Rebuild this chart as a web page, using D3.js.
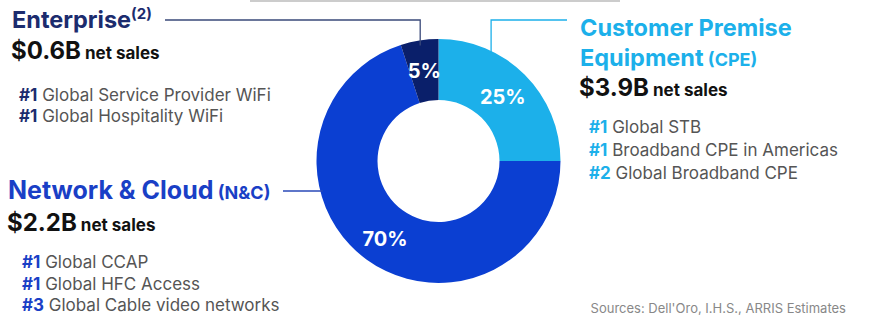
<!DOCTYPE html>
<meta charset="utf-8">
<html>
<head>
<title>Segment net sales</title>
<script src="https://d3js.org/d3.v7.min.js"></script>
<style>
  body { margin: 0; background: #fff; font-family: Inter, "Open Sans", sans-serif; }
  svg { display: block; }
  .rank { font-size: 17px; fill: #555; }
  .rank tspan.num { font-weight: 700; }
  .pct { font-size: 20px; font-weight: 700; fill: #fff; }
</style>
</head>
<body>
<div id="chart"></div>
<script>
// data
var segments = ["Customer Premise Equipment (CPE)", "Network & Cloud (N&C)", "Enterprise"];
var shares = [25, 70, 5];
var netSales = ["$3.9B", "$2.2B", "$0.6B"];
var cpeRanks = [["#1", "Global STB"], ["#1", "Broadband CPE in Americas"], ["#2", "Global Broadband CPE"]];
var ncRanks = [["#1", "Global CCAP"], ["#1", "Global HFC Access"], ["#3", "Global Cable video networks"]];
var entRanks = [["#1", "Global Service Provider WiFi"], ["#1", "Global Hospitality WiFi"]];
var colors = ["#1cb0ea", "#0b3fd2", "#0a1f6a"];
var labelColors = ["#1cb0ea", "#1a3fc6", "#1c2c6e"];

var width = 872, height = 320;
var cx = 438.5, cy = 161, outerR = 122, innerR = 61;

var svg = d3.select("#chart").append("svg")
  .attr("width", width).attr("height", height);

// cut-off rule at the top of the slide
svg.append("line").attr("x1", 250).attr("x2", 620).attr("y1", 1).attr("y2", 1)
  .attr("stroke", "#bbb").attr("stroke-width", 1.5);

var pie = d3.pie().sort(null).value(function(d) { return d; });
var arcs = pie(shares);
var arc = d3.arc().innerRadius(innerR).outerRadius(outerR);
var labelArc = d3.arc().innerRadius(outerR * 0.745).outerRadius(outerR * 0.745);

var g = svg.append("g").attr("transform", "translate(" + cx + "," + cy + ")");

function polar(deg, r) {
  var a = deg * Math.PI / 180;
  return [cx + r * Math.sin(a), cy - r * Math.cos(a)];
}

// connector lines (drawn under the donut)
var p;
p = polar(351, 117);
svg.append("path").attr("d", "M165,20H" + p[0] + "V" + p[1])
  .attr("fill", "none").attr("stroke", "#3a4a7a").attr("stroke-width", 1.3);
p = polar(26, 120);
svg.append("path").attr("d", "M567,20H" + p[0] + "V" + p[1])
  .attr("fill", "none").attr("stroke", colors[0]).attr("stroke-width", 1.3);
p = polar(256, 120);
svg.append("path").attr("d", "M283,191H" + p[0] + "V" + p[1])
  .attr("fill", "none").attr("stroke", "#2a4ab8").attr("stroke-width", 1.3);

g.selectAll("path.slice")
  .data(arcs)
  .enter()
  .append("path")
  .attr("class", "slice")
  .attr("d", arc)
  .attr("fill", function(d, i) { return colors[i]; });

g.selectAll("text.pct")
  .data(arcs)
  .enter()
  .append("text")
  .attr("class", "pct")
  .attr("text-anchor", "middle")
  .attr("dominant-baseline", "central")
  .attr("transform", function(d, i) {
    var c = labelArc.centroid(d);
    if (i == 1) c[1] += 4;
    return "translate(" + c[0] + "," + c[1] + ")";
  })
  .text(function(d) { return d.data + "%"; });

// text blocks
function title(x, y, main, small, color, size, sup) {
  var t = svg.append("text").attr("x", x).attr("y", y)
    .attr("font-weight", 700).attr("fill", color).style("font-size", size + "px");
  t.append("tspan").text(main);
  if (small) t.append("tspan").style("font-size", "18px").text(" " + small);
  if (sup) t.append("tspan").attr("dy", -9).style("font-size", "15px").text(sup);
}
function sales(x, y, val) {
  var t = svg.append("text").attr("x", x).attr("y", y).attr("font-weight", 700).attr("fill", "#111");
  t.append("tspan").style("font-size", "24px").text(val);
  t.append("tspan").style("font-size", "17px").text(" net sales");
}
function ranks(x, y, list, color, step) {
  list.forEach(function(r, i) {
    var t = svg.append("text").attr("class", "rank").attr("x", x).attr("y", y + i * step);
    t.append("tspan").attr("class", "num").attr("fill", color).text(r[0]);
    t.append("tspan").text(" " + r[1]);
  });
}

// Enterprise
title(12, 28, segments[2], null, labelColors[2], 23.5, "(2)");
sales(11, 59, netSales[2]);
ranks(19, 101, entRanks, labelColors[2], 21);

// Network & Cloud
title(8, 199, "Network & Cloud", "(N&C)", labelColors[1], 25);
sales(7, 231, netSales[1]);
ranks(22, 268, ncRanks, labelColors[1], 21.5);

// CPE
title(580, 36, "Customer Premise", null, labelColors[0], 23.5);
title(580, 66, "Equipment", "(CPE)", labelColors[0], 23.5);
sales(579, 95.5, netSales[0]);
ranks(589, 133, cpeRanks, labelColors[0], 23);

svg.append("text").attr("x", 846).attr("y", 313).attr("text-anchor", "end")
  .style("font-size", "13px").attr("fill", "#888")
  .text("Sources: Dell'Oro, I.H.S., ARRIS Estimates");
</script>
</body>
</html>
